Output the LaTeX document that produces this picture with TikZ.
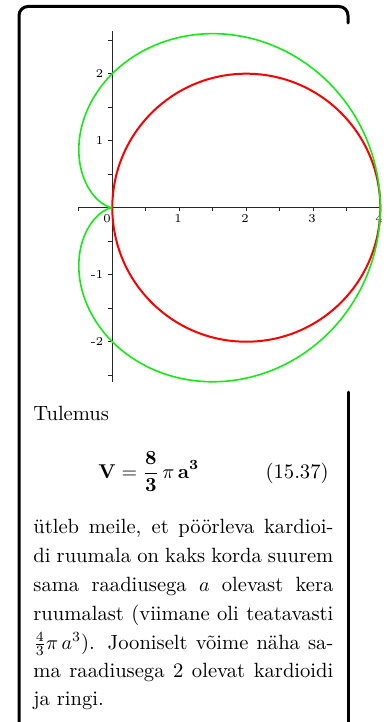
\documentclass[tikz,border=0pt]{standalone}
\begin{document}
\begin{tikzpicture}[x=0.5pt,y=-0.5pt,
  txt/.style={font=\fontsize{10.3pt}{14pt}\selectfont, inner sep=0pt, anchor=base west},
  ticklab/.style={font=\fontsize{6pt}{7pt}\selectfont, inner sep=0pt},
  frame/.style={line width=1.5pt, line cap=round},
  axis/.style={line width=0.5pt, black!85},
  cardio/.style={line width=0.8pt, color={rgb,255:red,20;green,235;blue,20}},
  circ/.style={line width=1pt, color={rgb,255:red,250;green,0;blue,0}}]
\useasboundingbox (0,0) rectangle (386,722);
% frame
\coordinate (fbl) at (19,724);
\coordinate (ftl) at (19,6.5);
\coordinate (ftr) at (348,6.5);
\coordinate (fre) at (348,23);
\coordinate (frs) at (348,392);
\coordinate (frb) at (348,724);
\draw[frame, rounded corners=4.5pt] (fbl) -- (ftl) -- (ftr) -- (fre);
\draw[frame] (frs) -- (frb);
% plot
\begin{scope}[shift={(112.3,207.7)},x=33.5pt,y=33.5pt]
  \coordinate (xa) at (-0.5,0);
  \coordinate (xb) at (4,0);
  \coordinate (ya) at (0,-2.6);
  \coordinate (yb) at (0,2.63);
  \draw[axis] (xa) -- (xb);
  \draw[axis] (ya) -- (yb);
  \foreach \t in {-0.5,0.5,1,1.5,2,2.5,3,3.5,4}
    \draw[axis] (\t,0.015) -- (\t,-0.045);
  \foreach \t in {-2.5,-2,-1.5,-1,-0.5,0.5,1,1.5,2,2.5}
    \draw[axis] (0,\t) -- (-0.06,\t);
  \foreach \t in {1,2,3,4}
    \node[ticklab] (xl\t) at (\t-0.02,-0.165) {\t};
  \node[ticklab] (xl0) at (-0.08,-0.165) {0};
  \foreach \t in {1,2}
    \node[ticklab, anchor=east] (yl\t) at (-0.13,\t) {\t};
  \foreach \t in {1,2}
    \node[ticklab, anchor=east] (ylm\t) at (-0.13,-\t) {-\t};
  \draw[circ] (2,0) circle (2);
  \draw[cardio] plot[domain=0:360, samples=240, smooth]
    ({2*(1+cos(\x))*cos(\x)},{2*(1+cos(\x))*sin(\x)});
\end{scope}
% text
\node[txt] (tul) at (33,420) {Tulemus};
\node[txt] (eq) at (98,478) {$\displaystyle \mathbf{V} = \frac{\mathbf{8}}{\mathbf{3}}\,\pi\,\mathbf{a}^{\mathbf{3}}$};
\node[txt, anchor=base east] (tag) at (329,478) {(15.37)};
\node[txt] (l1) at (33,533) {\makebox[150pt][s]{ütleb meile, et pöörleva kardioi-}};
\node[txt] (l2) at (33,562.5) {\makebox[150pt][s]{di ruumala on kaks korda suurem}};
\node[txt] (l3) at (33,591.5) {\makebox[150pt][s]{sama raadiusega $a$ olevast kera}};
\node[txt] (l4) at (33,620.5) {\makebox[150pt][s]{ruumalast (viimane oli teatavasti}};
\node[txt] (l5) at (33,649) {\makebox[150pt][s]{$\frac{4}{3}\pi\,a^3$). Jooniselt võime näha sa-}};
\node[txt] (l6) at (33,677.5) {\makebox[150pt][s]{ma raadiusega 2 olevat kardioidi}};
\node[txt] (l7) at (33,705.5) {ja ringi.};
\end{tikzpicture}
\end{document}
